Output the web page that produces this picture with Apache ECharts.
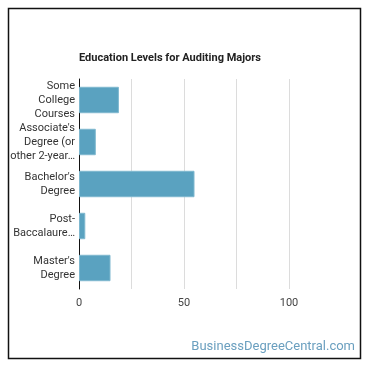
<!DOCTYPE html>
<html><head><meta charset="utf-8">
<script src="https://cdn.jsdelivr.net/npm/echarts@6/dist/echarts.min.js"></script>
<style>html,body{margin:0;padding:0;background:#fff}#c{width:370px;height:370px}</style>
</head><body><div id="c"></div>
<script>
const categories = ["Some\nCollege\nCourses", "Associate's\nDegree (or\nother 2-year…", "Bachelor's\nDegree", "Post-\nBaccalaure…", "Master's\nDegree"];
const values = [19, 8, 55, 3, 15];
const tickLabels = [0, 50, 100];
const titleText = "Education Levels for Auditing Majors";
const watermark = "BusinessDegreeCentral.com";

const chart = echarts.init(document.getElementById('c'), null, {renderer: 'canvas'});
chart.setOption({
  animation: false,
  backgroundColor: '#fff',
  title: {
    text: titleText, left: 74, top: 48,
    textStyle: {fontFamily: 'Roboto', fontSize: 11, fontWeight: 'bold', color: '#222'}
  },
  grid: {left: 79, right: 81, top: 79, bottom: 81, containLabel: false},
  xAxis: {
    type: 'value', min: 0, max: 100, interval: 25,
    axisLine: {show: false}, axisTick: {show: false},
    splitLine: {show: true, lineStyle: {color: '#dcdcdc', width: 1}},
    axisLabel: {
      fontFamily: 'Roboto', fontSize: 11, color: '#444', margin: 9,
      formatter: v => tickLabels.includes(v) ? String(v) : ''
    }
  },
  yAxis: {
    type: 'category', data: categories, inverse: true,
    axisLine: {show: true, lineStyle: {color: '#111', width: 1}},
    axisTick: {show: false},
    axisLabel: {fontFamily: 'Roboto', fontSize: 11, color: '#333', lineHeight: 14, margin: 4, align: 'right'}
  },
  series: [{
    type: 'bar', data: values, barCategoryGap: '37%',
    itemStyle: {color: '#5aa2c0', borderColor: '#7fb8cf', borderWidth: 1}
  }],
  graphic: [
    {type: 'rect', shape: {x: 8.5, y: 8.5, width: 352, height: 350}, style: {fill: 'none', stroke: '#111', lineWidth: 1.5}, z: 100},
    {type: 'text', right: 15, top: 340, style: {text: watermark, fontFamily: 'Roboto', fontSize: 13, fill: '#6a9fbf'}}
  ]
});
</script></body></html>
